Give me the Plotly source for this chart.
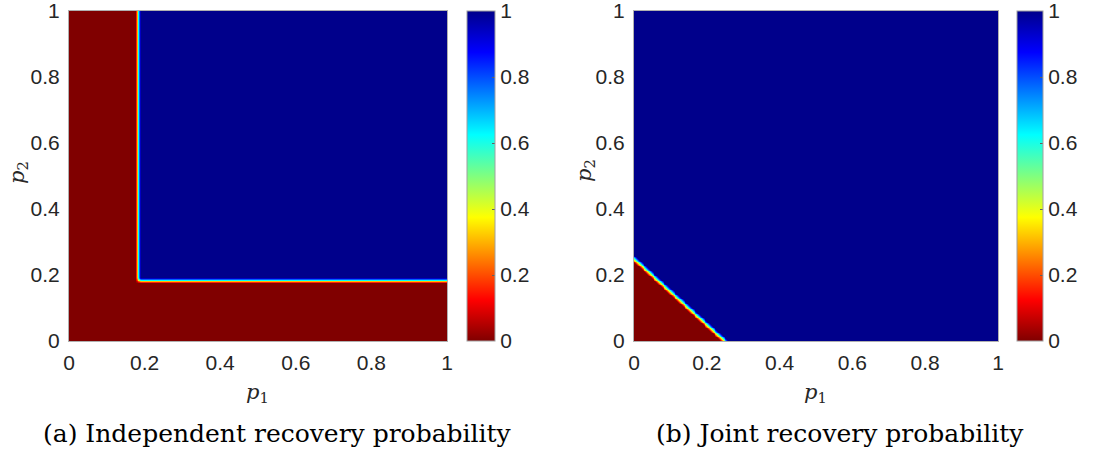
import numpy as np
import plotly.graph_objects as go

# ---- data ----
p1_ticks = [0, 0.2, 0.4, 0.6, 0.8, 1]
p2_ticks = [0, 0.2, 0.4, 0.6, 0.8, 1]
tick_text = ["0", "0.2", "0.4", "0.6", "0.8", "1"]
cbar_ticks = [0, 0.2, 0.4, 0.6, 0.8, 1]
cbar_text = ["0", "0.2", "0.4", "0.6", "0.8", "1"]
independent_threshold = 0.183   # p1 and p2 both above -> recovered
joint_threshold = 0.25          # p1 + p2 above -> recovered
edge_width = 0.016              # width of the colour transition
grid_points = 401
captions = ["(a) Independent recovery probability", "(b) Joint recovery probability"]

# ---- grids ----
p = np.linspace(0, 1, grid_points)
P1, P2 = np.meshgrid(p, p)


def ramp(d, w):
    return np.clip(d / w + 0.5, 0, 1)


z_ind = (ramp(P1 - independent_threshold, edge_width) *
         ramp(P2 - independent_threshold, edge_width)).astype(np.float32)
z_joint = ramp((P1 + P2 - joint_threshold) / np.sqrt(2), edge_width).astype(np.float32)

# reversed MATLAB jet
jet_r = [
    [0.0, "rgb(128,0,0)"],
    [0.125, "rgb(255,0,0)"],
    [0.375, "rgb(255,255,0)"],
    [0.625, "rgb(0,255,255)"],
    [0.875, "rgb(0,0,255)"],
    [1.0, "rgb(0,0,139)"],
]

W, H = 1102, 459


def px(x):
    return x / W


def py(y):
    return 1 - y / H


tick_font = dict(family="Liberation Sans", size=21, color="#262626")

fig = go.Figure()

panels = [
    dict(z=z_ind, xd=(69, 447), cbx=467, cbw=28, xa="x", ya="y"),
    dict(z=z_joint, xd=(634, 998), cbx=1017, cbw=26, xa="x2", ya="y2"),
]
ytop, ybot = 11, 341

for pn in panels:
    fig.add_trace(go.Heatmap(
        x=p, y=p, z=pn["z"], zmin=0, zmax=1, colorscale=jet_r,
        xaxis=pn["xa"], yaxis=pn["ya"], hoverinfo="skip",
        colorbar=dict(
            x=px(pn["cbx"]), xanchor="left", xref="container",
            y=py((ytop + ybot) / 2), yanchor="middle", yref="container",
            len=ybot - ytop, lenmode="pixels",
            thickness=pn["cbw"], thicknessmode="pixels",
            xpad=0, ypad=0,
            outlinewidth=1, outlinecolor="#a0a0a0",
            tickvals=cbar_ticks, ticktext=cbar_text,
            ticks="inside", ticklen=3, tickcolor="#606060",
            tickfont=tick_font, ticklabeloverflow="allow",
        ),
    ))

axis_common = dict(
    range=[0, 1], showgrid=False, zeroline=False, automargin=False,
    showline=True, linecolor="#b0b0b0", linewidth=1, mirror=True,
    ticks="", tickfont=tick_font, ticklabeloverflow="allow",
)

layout_axes = {}
for i, pn in enumerate(panels):
    sfx = "" if i == 0 else str(i + 1)
    layout_axes["xaxis" + sfx] = dict(
        axis_common, domain=[px(pn["xd"][0]), px(pn["xd"][1])],
        anchor="y" + sfx, tickvals=p1_ticks, ticktext=tick_text,
        ticklabelstandoff=3,
    )
    layout_axes["yaxis" + sfx] = dict(
        axis_common, domain=[py(ybot), py(ytop)],
        anchor="x" + sfx, tickvals=p2_ticks, ticktext=tick_text,
        ticklabelstandoff=4,
    )

label_font = dict(family="DejaVu Serif, serif", size=21, color="#262626")
cap_font = dict(family="DejaVu Serif, serif", size=25, color="#000000")

annotations = []
for (lx, ly, tx, ty, cx, cap) in [
    (257, 393, 18, 173, 277, captions[0]),
    (815, 393, 585, 171, 840, captions[1]),
]:
    annotations.append(dict(x=px(lx), y=py(ly), xref="paper", yref="paper",
                            text="<i>p</i><sub>1</sub>", showarrow=False,
                            font=label_font, xanchor="center", yanchor="middle"))
    annotations.append(dict(x=px(tx), y=py(ty), xref="paper", yref="paper",
                            text="<i>p</i><sub>2</sub>", showarrow=False, textangle=-90,
                            font=label_font, xanchor="center", yanchor="middle"))
    annotations.append(dict(x=px(cx), y=py(433), xref="paper", yref="paper",
                            text=cap, showarrow=False,
                            font=cap_font, xanchor="center", yanchor="middle"))

fig.update_layout(
    width=W, height=H, margin=dict(l=0, r=0, t=0, b=0, autoexpand=False),
    paper_bgcolor="white", plot_bgcolor="white",
    annotations=annotations, showlegend=False,
    **layout_axes,
)

fig.write_html("out.html")
